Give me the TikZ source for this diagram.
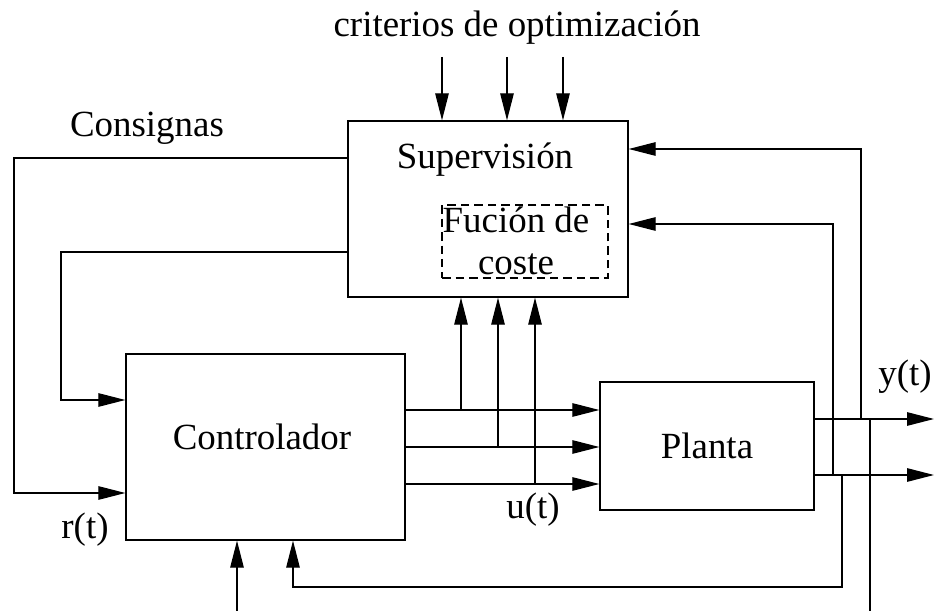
\documentclass[tikz,border=0pt]{standalone}
\usepackage{fontspec}
\setmainfont{Liberation Serif}
\usepackage{tikz}
\usetikzlibrary{positioning,calc,arrows.meta}

\begin{document}
\begin{tikzpicture}[x=0.02cm, y=-0.02cm, font=\fontsize{21}{24}\selectfont,
    blk/.style={draw, line width=0.8pt, inner sep=0pt},
    wire/.style={line width=0.7pt},
    sig/.style={wire, -{Triangle[length=0.54cm, width=0.27cm]}}]
  \useasboundingbox (0,0) rectangle (934,611);

  % blocks
  \node[blk, minimum width=5.6cm, minimum height=3.52cm] (sup) at (488,209) {};
  \node (suptxt) at (485,160) {Supervisión};
  \node[blk, dash pattern=on 0.17cm off 0.1cm, minimum width=3.32cm, minimum height=1.46cm] (coste) at (525,241.5) {};
  \node[align=center, inner sep=0pt] (costetxt) at (516,241) {Fución de\\coste};
  \node[blk, minimum width=5.58cm, minimum height=3.72cm] (ctrl) at (265.5,447) {};
  \node (ctrltxt) at (262,437) {Controlador};
  \node[blk, minimum width=4.28cm, minimum height=2.56cm] (planta) at (707,446) {Planta};

  % labels
  \node (crit) at (517,28) {criterios de optimización};
  \node (cons) at (147,128) {Consignas};
  \node (rt) at (85,530) {r(t)};
  \node (ut) at (533,510) {u(t)};
  \node (yt) at (905,377) {y(t)};

  % optimization criteria
  \foreach \x [count=\i] in {442,507,563} {
    \coordinate (crit\i) at (\x,57);
    \draw[sig] (crit\i) -- (crit\i |- sup.north);
  }

  % set points
  \coordinate (cons1) at (14,158);
  \coordinate (cons2) at (61,252);
  \draw[sig] (cons1 -| sup.west) -- (cons1) |- ($(ctrl.west)+(0,46)$);
  \draw[sig] (cons2 -| sup.west) -- (cons2) |- ($(ctrl.west)+(0,-47)$);

  % control signals u(t)
  \foreach \d/\x [count=\i] in {-37/461,0/498,37/535} {
    \coordinate (u\i) at ($(ctrl.east)+(0,\d)$);
    \draw[sig] (u\i) -- (u\i -| planta.west);
    \coordinate (tap\i) at (u\i -| \x,0);
    \draw[sig] (tap\i) -- (tap\i |- sup.south);
  }

  % outputs y(t)
  \coordinate (ya) at ($(planta.east)+(0,-27)$);
  \coordinate (yb) at ($(planta.east)+(0,29)$);
  \coordinate (yaout) at (934,0 |- ya);
  \coordinate (ybout) at (934,0 |- yb);
  \draw[sig] (ya) -- (yaout);
  \draw[sig] (yb) -- (ybout);

  % feedback to supervision
  \coordinate (fb1) at (ya -| 861,0);
  \coordinate (fb2) at (yb -| 833,0);
  \draw[sig] (fb1) |- ($(sup.east)+(0,-60)$);
  \draw[sig] (fb2) |- ($(sup.east)+(0,15)$);

  % feedback to controller
  \coordinate (fb3) at (yb -| 842,0);
  \coordinate (fb3low) at (842,587);
  \draw[sig] (fb3) -- (fb3low) -| ($(ctrl.south)+(27.5,0)$);
  \coordinate (fb4) at (ya -| 870,0);
  \draw[wire] (fb4) -- (870,611);

  % disturbance input
  \coordinate (dist) at (237,611);
  \draw[sig] (dist) -- (dist |- ctrl.south);
\end{tikzpicture}
\end{document}
